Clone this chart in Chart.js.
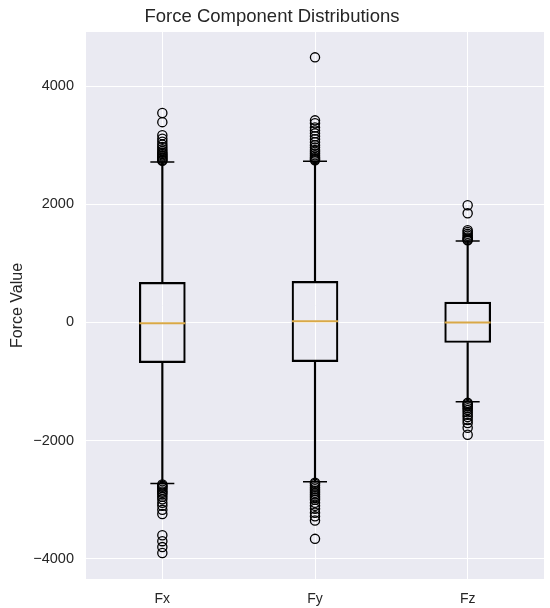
<!DOCTYPE html>
<html>
<head>
<meta charset="utf-8">
<script src="https://cdn.jsdelivr.net/npm/chart.js@4.4.1/dist/chart.umd.min.js"></script>
<style>
    html, body { margin: 0; padding: 0; background: #fff; overflow: hidden; }
    canvas { display: block; }
</style>
</head>
<body>
<canvas id="force_dist" width="550" height="608"></canvas>
<script>
// box stats per component
var categories = ['Fx', 'Fy', 'Fz'];
var q1Values = [-678, -661, -339];
var medianValues = [-12, 22, 0];
var q3Values = [678, 695, 344];
var whiskerLow = [-2723, -2695, -1339];
var whiskerHigh = [2717, 2729, 1378];

// fliers
var fxOutliers = [3545, 3390, 3170, 3110, 3060, 3010, 2970, 2930, 2900, 2870, 2850, 2830, 2810, 2790, 2770, 2750, 2735,
    -2740, -2760, -2780, -2800, -2830, -2860, -2880, -2910, -2950, -2990, -3050, -3100, -3170, -3240,
    -3600, -3700, -3800, -3900];
var fyOutliers = [4486, 3420, 3370, 3300, 3250, 3200, 3150, 3100, 3050, 3000, 2960, 2920, 2890, 2860, 2830, 2800, 2780, 2760, 2745,
    -2710, -2730, -2760, -2790, -2820, -2850, -2880, -2910, -2940, -2970, -3000, -3050, -3100, -3150, -3220, -3280, -3350,
    -3661];
var fzOutliers = [1983, 1847, 1560, 1530, 1500, 1470, 1440, 1420, 1400, 1390,
    -1360, -1380, -1400, -1420, -1450, -1480, -1520, -1560, -1600, -1650, -1700, -1780, -1900];
var yTicks = [-4000, -2000, 0, 2000, 4000];

var fontFamily = '"Liberation Sans", Arial, sans-serif';
var textColor = '#262626';

function pointsFor(values) {
    return categories.map(function (cat, i) {
        return { x: cat, y: values[i] };
    });
}

function flierPoints() {
    var pts = [];
    [fxOutliers, fyOutliers, fzOutliers].forEach(function (list, i) {
        list.forEach(function (v) {
            pts.push({ x: categories[i], y: v });
        });
    });
    return pts;
}

var plotBackground = {
    id: 'plotBackground',
    beforeDraw: function (chart) {
        var a = chart.chartArea;
        var ctx = chart.ctx;
        ctx.save();
        ctx.fillStyle = '#eaeaf2';
        ctx.fillRect(a.left, a.top, a.right - a.left, a.bottom - a.top);
        ctx.restore();
    }
};

var ctx = document.getElementById('force_dist').getContext('2d');

var boxChart = new Chart(ctx, {
    type: 'bar',
    data: {
        labels: categories,
        datasets: [
            {
                type: 'line',
                label: 'median',
                data: pointsFor(medianValues),
                showLine: false,
                pointStyle: 'line',
                pointRadius: 23,
                pointBorderColor: '#d9a846',
                pointBorderWidth: 2,
                pointHoverRadius: 23
            },
            {
                type: 'line',
                label: 'caps',
                data: pointsFor(whiskerHigh).concat(pointsFor(whiskerLow)),
                showLine: false,
                pointStyle: 'line',
                pointRadius: 12,
                pointBorderColor: '#000',
                pointBorderWidth: 1.5,
                pointHoverRadius: 12
            },
            {
                type: 'line',
                label: 'fliers',
                data: flierPoints(),
                showLine: false,
                pointStyle: 'circle',
                pointRadius: 4.6,
                pointBackgroundColor: 'rgba(0,0,0,0)',
                pointBorderColor: '#000',
                pointBorderWidth: 1.3,
                pointHoverRadius: 4.6
            },
            {
                label: 'box',
                data: categories.map(function (c, i) { return [q1Values[i], q3Values[i]]; }),
                grouped: false,
                barThickness: 46,
                backgroundColor: 'rgba(0,0,0,0)',
                borderColor: '#000',
                borderWidth: 1.5,
                borderSkipped: false
            },
            {
                label: 'upper whisker',
                data: categories.map(function (c, i) { return [q3Values[i], whiskerHigh[i]]; }),
                grouped: false,
                barThickness: 1.5,
                backgroundColor: '#000',
                borderWidth: 0
            },
            {
                label: 'lower whisker',
                data: categories.map(function (c, i) { return [whiskerLow[i], q1Values[i]]; }),
                grouped: false,
                barThickness: 1.5,
                backgroundColor: '#000',
                borderWidth: 0
            }
        ]
    },
    options: {
        responsive: false,
        animation: false,
        layout: {
            autoPadding: false,
            padding: { left: 0, right: 6, top: 0, bottom: 0 }
        },
        plugins: {
            legend: { display: false },
            tooltip: { enabled: false },
            title: {
                display: true,
                text: 'Force Component Distributions',
                color: textColor,
                font: { family: fontFamily, size: 18.5, weight: 'normal' },
                padding: { top: 6, bottom: 3.8 }
            }
        },
        scales: {
            x: {
                type: 'category',
                offset: true,
                grid: { color: '#ffffff', lineWidth: 1, offset: false, drawTicks: false },
                border: { display: false },
                ticks: {
                    color: textColor,
                    padding: 12,
                    font: { family: fontFamily, size: 14 }
                },
                afterFit: function (scale) {
                    scale.height = 29;
                    scale.paddingLeft = 0;
                    scale.paddingRight = 0;
                }
            },
            y: {
                min: -4340,
                max: 4915,
                grid: { color: '#ffffff', lineWidth: 1, drawTicks: false },
                border: { display: false },
                afterBuildTicks: function (scale) {
                    scale.ticks = yTicks.map(function (v) { return { value: v }; });
                },
                ticks: {
                    color: textColor,
                    padding: 12,
                    font: { family: fontFamily, size: 14.5 },
                    callback: function (value) {
                        return value < 0 ? '\u2212' + Math.abs(value) : String(value);
                    }
                },
                title: {
                    display: true,
                    text: 'Force Value',
                    color: textColor,
                    font: { family: fontFamily, size: 16 },
                    padding: { top: 8, bottom: 0 }
                },
                afterFit: function (scale) {
                    scale.width = 86;
                    scale.paddingTop = 0;
                    scale.paddingBottom = 0;
                }
            }
        }
    },
    plugins: [plotBackground]
});
</script>
</body>
</html>
